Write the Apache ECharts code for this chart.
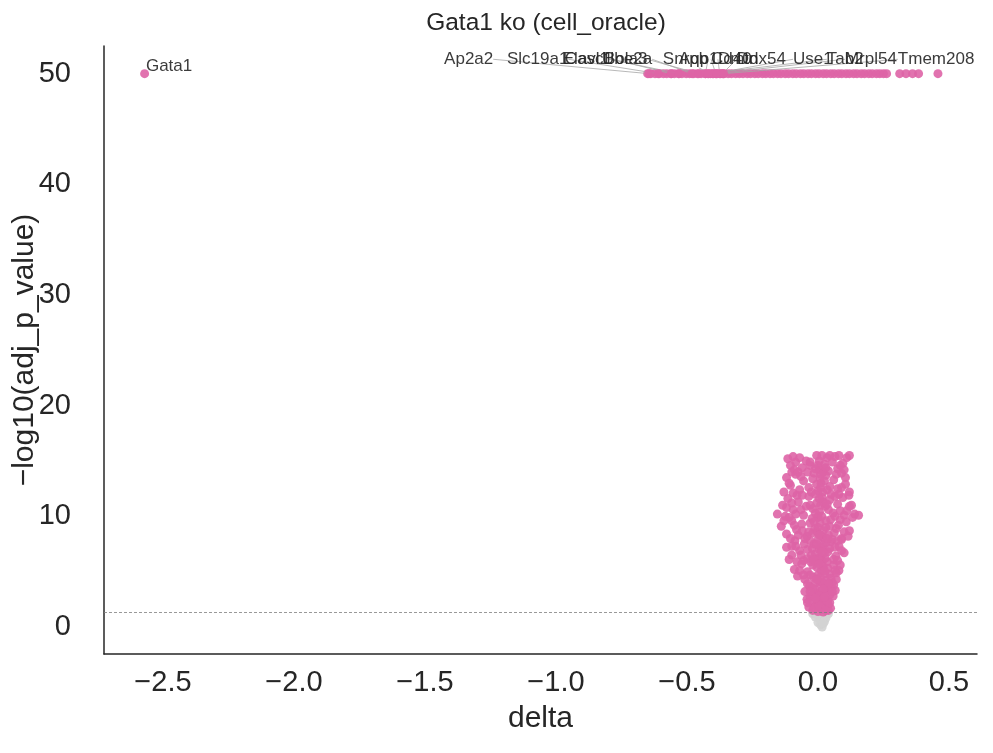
<!DOCTYPE html>
<html><head><meta charset="utf-8">
<script src="https://cdn.jsdelivr.net/npm/echarts@6/dist/echarts.min.js"></script>
<style>html,body{margin:0;padding:0;background:#fff}#c{width:993px;height:753px}</style>
</head><body><div id="c"></div>
<script>
const chartTitle = 'Gata1 ko (cell_oracle)';
const xName = 'delta';
const yName = '\u2212log10(adj_p_value)';
const xTicks = [-2.5, -2.0, -1.5, -1.0, -0.5, 0.0, 0.5];
const yTicks = [0, 10, 20, 30, 40, 50];
const sigThreshold = 1.301;

// genes whose -log10(p) is capped at 50
const cappedGenes = [
  [-0.65,50],[-0.638,50],[-0.622,50],[-0.606,50],[-0.59,50],[-0.577,50],[-0.561,50],[-0.548,50],[-0.532,50],
  [-0.519,50],[-0.503,50],[-0.49,50],[-0.474,50],[-0.46,50],[-0.446,50],[-0.43,50],[-0.417,50],[-0.401,50],
  [-0.388,50],[-0.372,50],[-0.359,50],[-0.343,50],[-0.33,50],[-0.314,50],[-0.3,50],[-0.286,50],[-0.27,50],
  [-0.257,50],[-0.241,50],[-0.228,50],[-0.212,50],[-0.199,50],[-0.183,50],[-0.17,50],[-0.154,50],[-0.141,50],
  [-0.125,50],[-0.112,50],[-0.096,50],[-0.083,50],[-0.067,50],[-0.054,50],[-0.038,50],[-0.025,50],[-0.009,50],
  [0.004,50],[0.02,50],[0.033,50],[0.049,50],[0.062,50],[0.078,50],[0.091,50],[0.107,50],[0.12,50],
  [0.136,50],[0.149,50],[0.165,50],[0.178,50],[0.194,50],[0.207,50],[0.223,50],[0.236,50],[0.25,50],
  [0.262,50],[0.312,50],[0.336,50],[0.361,50],[0.384,50],[0.458,50]
];

// significant genes (adj p < 0.05)
const sigGenes = [
  [-0.115,15.2],[-0.105,14.6],[-0.095,15.4],[-0.085,14.9],[-0.07,15.3],[-0.06,14.4],[-0.045,15.0],[-0.03,14.6],
  [-0.005,15.5],[0.005,15.0],[0.015,15.5],[0.025,14.7],[0.035,15.3],[0.045,15.5],[0.055,14.9],[0.065,15.4],
  [0.08,15.5],[0.095,14.8],[0.11,15.3],[0.12,15.5],[-0.09,14.2],[0.075,14.3],[0.005,14.2],[0.02,14.0],
  [-0.12,13.5],[-0.105,12.8],[-0.085,13.8],[-0.07,12.4],[-0.055,13.2],[-0.035,12.6],[-0.015,13.9],[-0.005,12.9],
  [0.008,13.4],[0.018,12.2],[0.03,13.7],[0.045,12.7],[0.06,13.3],[0.075,12.5],[0.09,13.9],[0.105,12.9],
  [-0.04,14.0],[0.04,14.1],[0.0,12.3],[0.012,13.0],[-0.095,12.1],[0.12,12.2],
  [-0.155,10.2],[-0.135,11.0],[-0.115,11.6],[-0.095,10.6],[-0.075,11.3],[-0.055,10.1],[-0.035,11.8],[-0.02,10.7],
  [-0.005,11.2],[0.006,10.4],[0.016,11.7],[0.028,10.9],[0.045,11.5],[0.058,10.3],[0.075,11.1],[0.095,11.7],
  [0.11,10.5],[0.128,11.0],[0.14,10.2],[0.155,10.1],[0.118,11.9],[-0.125,10.0],[0.0,10.0],[0.01,11.0],[-0.045,10.9],
  [-0.14,9.1],[-0.12,8.4],[-0.1,9.6],[-0.082,8.8],[-0.062,9.3],[-0.042,8.2],[-0.022,9.8],[-0.004,8.6],
  [0.008,9.4],[0.018,8.1],[0.03,9.0],[0.048,9.7],[0.062,8.5],[0.078,9.2],[0.09,8.0],[0.108,9.5],
  [0.12,8.7],[0.132,9.9],[-0.012,8.9],[0.0,9.9],[0.012,8.3],
  [-0.12,7.2],[-0.1,6.5],[-0.088,7.8],[-0.07,6.9],[-0.052,7.5],[-0.04,6.2],[-0.022,7.1],[-0.01,6.6],
  [0.0,7.9],[0.01,6.3],[0.02,7.4],[0.038,6.8],[0.05,7.7],[0.068,6.4],[0.08,7.3],[0.1,6.7],
  [0.09,7.9],[-0.11,6.1],[0.005,7.0],[0.015,6.0],[-0.03,7.8],[0.028,6.2],
  [-0.09,5.2],[-0.078,4.6],[-0.062,5.7],[-0.05,4.3],[-0.04,5.0],[-0.028,5.9],[-0.018,4.5],[-0.004,5.4],
  [0.006,4.1],[0.016,5.8],[0.026,4.8],[0.038,5.3],[0.05,4.4],[0.06,5.6],[0.07,4.9],[0.08,5.1],
  [0.0,4.7],[0.012,5.1],[-0.01,5.9],[0.03,4.2],
  [-0.05,3.2],[-0.042,2.5],[-0.032,3.7],[-0.022,2.9],[-0.012,3.4],[-0.002,2.2],[0.008,3.9],[0.018,2.7],
  [0.028,3.1],[0.038,2.4],[0.048,3.6],[0.058,2.8],[0.066,3.3],[0.0,3.0],[0.012,2.0],[0.025,3.8],[-0.02,2.1],[0.04,2.0],
  [-0.035,1.8],[-0.02,1.5],[-0.008,2.0],[0.0,1.4],[0.01,1.7],[0.02,1.35],[0.03,1.9],[0.04,1.5],[0.048,1.7],[0.015,1.9],
  [-0.03,14.9],[0.0,14.6],[0.01,13.8],[0.025,13.2],[-0.02,13.4],[0.035,12.4],[-0.01,12.0],[0.05,12.0],[0.02,11.3],
  [-0.03,11.0],[0.04,10.6],[-0.01,10.3],[0.03,9.6],[-0.03,9.4],[0.045,9.1],[0.0,9.0],[0.02,8.7],[-0.02,8.5],
  [0.04,8.3],[-0.05,8.0],[0.055,7.9],[0.03,7.6],[-0.015,7.5],[0.01,7.2],[-0.04,7.0],[0.045,7.1],[0.025,6.7],
  [-0.025,6.5],[0.06,6.1],[-0.055,6.0],[0.0,6.2],[0.035,5.9],[-0.02,5.6],[0.02,5.4],[0.045,4.8],[-0.03,4.7],
  [0.01,4.5],[-0.01,4.0],[0.02,4.0],[0.055,4.0],[-0.04,3.9],[0.03,3.5],[-0.02,3.5],[0.01,3.2],[0.045,2.9],
  [-0.03,2.7],[0.03,2.3],[0.0,2.5],[0.02,1.6],[-0.015,1.7],[0.035,1.6],[0.005,1.9],[0.045,2.2],[-0.04,2.2],
  [-0.13,12.2],[-0.11,13.0],[-0.1,14.0],[-0.075,14.0],[-0.065,13.6],[-0.08,11.9],[-0.06,11.9],[-0.1,11.2],
  [-0.12,10.8],[-0.085,10.2],[-0.065,10.6],[-0.11,9.9],[-0.13,9.6],[-0.09,9.2],[-0.075,8.3],[-0.105,8.0],
  [-0.06,8.7],[-0.085,7.3],[-0.1,7.3],[-0.065,6.5],[-0.08,5.9],[-0.07,5.1],[-0.055,4.7],
  [0.085,14.6],[0.1,14.2],[0.105,13.5],[0.07,13.8],[0.08,12.0],[0.065,11.8],[0.09,12.6],[0.085,10.5],
  [0.1,10.1],[0.12,10.9],[0.065,10.0],[0.085,9.7],[0.1,8.6],[0.07,8.9],[0.115,8.2],[0.075,7.8],
  [0.065,7.2],[0.09,6.9],[0.075,6.0],[0.065,5.1],[0.07,4.3],[0.06,3.8],[0.055,3.2],[0.085,5.6],
  [-0.01,14.3],[0.03,14.4],[-0.025,12.2],[0.01,12.6],[0.005,11.6],[0.035,11.1],[-0.015,9.5],[0.015,10.0],
  [0.005,8.3],[-0.035,8.6],[0.035,8.0],[-0.005,7.5],[0.015,6.8],[-0.015,6.1],[0.005,5.7],[0.025,5.1],
  [-0.005,4.3],[0.04,3.9],[-0.03,3.2],[0.02,3.4],[0.005,2.8],[0.025,2.7],[-0.01,2.6],[0.03,1.5]
];

// non-significant genes
const nsGenes = [
  [-0.02,1.2],[-0.01,0.9],[0.0,1.0],[0.008,0.7],[0.02,1.1],[0.03,0.8],[0.0,0.4],[0.01,0.2],
  [0.016,0.0],[0.025,0.5],[0.04,1.2],[0.035,1.25],[-0.012,1.25],[0.02,0.3]
];

// annotated genes
const labelNames = ['Gata1','Ap2a2','Slc19a1','Casc1','Elavl1','Ube2a','Bola3','Snrpb','Aqp1','Cd40','Dmtn','Ddx54','Use1','Tab2','Mrpl54','Tmem208'];
const labelDelta = [-2.57,-0.645,-0.61,-0.56,-0.53,-0.48,-0.455,-0.43,-0.41,-0.39,-0.375,-0.365,-0.4,-0.42,-0.385,-0.36];
const labelLogP  = [50,50,50,50,50,50,50,50,50,50,50,50,50,50,50,50];
// text anchor positions (data units)
const labelTextX = [-2.565,-1.427,-1.187,-0.966,-0.974,-0.824,-0.817,-0.592,-0.531,-0.408,-0.382,-0.31,-0.095,0.034,0.103,0.305];
const labelTextY = [50.7,51.3,51.3,51.3,51.3,51.3,51.3,51.3,51.3,51.3,51.3,51.3,51.3,51.3,51.3,51.3];

const FONT = '"Liberation Sans", Arial, Helvetica, sans-serif';
const TXT = '#262626';
const PINK = '#de64a6';
const GREY = '#d3d3d3';

const G = {left: 104, right: 16, top: 46, bottom: 99};
const X = {min: -2.725, max: 0.607};
const Y = {min: -2.44, max: 52.5};
const W = 993, H = 753;
function px(x){ return G.left + (x - X.min) / (X.max - X.min) * (W - G.left - G.right); }
function py(y){ return H - G.bottom - (y - Y.min) / (Y.max - Y.min) * (H - G.top - G.bottom); }

const chart = echarts.init(document.getElementById('c'), null, {renderer: 'canvas'});

const labeledData = labelNames.map((n, i) => {
  const d = {name: n, value: [labelDelta[i], labelLogP[i]]};
  if (i === 0) d.labelLine = {show: false};
  return d;
});

const option = {
  animation: false,
  backgroundColor: '#ffffff',
  textStyle: {fontFamily: FONT},
  title: {
    text: chartTitle, left: 541, top: 6, textAlign: 'center',
    textStyle: {fontFamily: FONT, fontSize: 24.5, fontWeight: 'normal', color: TXT}
  },
  grid: {left: G.left, right: G.right, top: G.top, bottom: G.bottom, containLabel: false, outerBoundsMode: 'none'},
  xAxis: {
    type: 'value', min: X.min, max: X.max,
    name: xName, nameLocation: 'middle', nameGap: 50, nameMoveOverlap: false,
    nameTextStyle: {fontFamily: FONT, fontSize: 30, color: TXT},
    axisLine: {show: true, onZero: false, lineStyle: {color: TXT, width: 1.5}},
    axisTick: {show: false, customValues: xTicks},
    splitLine: {show: false},
    axisLabel: {
      customValues: xTicks, fontFamily: FONT, fontSize: 29, color: TXT, margin: 14,
      formatter: v => v.toFixed(1).replace('-', '\u2212')
    }
  },
  yAxis: {
    type: 'value', min: Y.min, max: Y.max,
    name: yName, nameLocation: 'middle', nameGap: 64, nameRotate: 90, nameMoveOverlap: false,
    nameTextStyle: {fontFamily: FONT, fontSize: 30, color: TXT},
    axisLine: {show: true, onZero: false, lineStyle: {color: TXT, width: 1.5}},
    axisTick: {show: false, customValues: yTicks},
    splitLine: {show: false},
    axisLabel: {
      customValues: yTicks, fontFamily: FONT, fontSize: 29, color: TXT, margin: 33,
      formatter: v => String(v)
    }
  },
  series: [
    {
      type: 'scatter', name: 'ns', data: nsGenes, symbolSize: 9,
      itemStyle: {color: GREY, opacity: 0.9}, z: 2,
      markLine: {
        silent: true, symbol: 'none', label: {show: false},
        lineStyle: {color: '#7f7f7f', width: 0.8, type: [3, 2]},
        data: [{yAxis: sigThreshold}]
      }
    },
    {
      type: 'scatter', name: 'sig', data: sigGenes, symbolSize: 9,
      itemStyle: {color: PINK, opacity: 0.9}, z: 3
    },
    {
      type: 'scatter', name: 'capped', data: cappedGenes, symbolSize: 9,
      itemStyle: {color: PINK, opacity: 0.9}, z: 3
    },
    {
      type: 'scatter', name: 'labeled', data: labeledData, symbolSize: 9,
      itemStyle: {color: PINK, opacity: 0.9}, z: 4,
      label: {
        show: true, formatter: '{b}', fontFamily: FONT, fontSize: 17, color: TXT
      },
      labelLine: {show: true, lineStyle: {color: '#a6a6a6', width: 0.8}},
      labelLayout: function (p) {
        const i = p.dataIndex;
        return {x: px(labelTextX[i]), y: py(labelTextY[i]), align: 'left', verticalAlign: 'middle'};
      }
    }
  ]
};
chart.setOption(option);
</script>
</body></html>
